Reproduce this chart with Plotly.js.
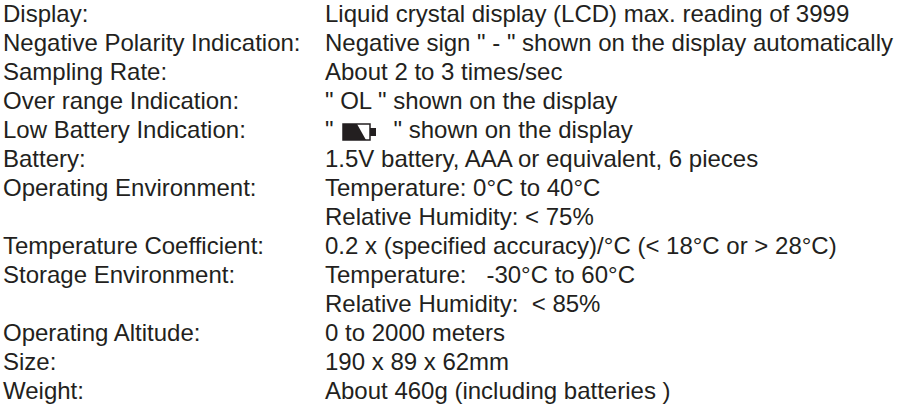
<!DOCTYPE html>
<html>
<head>
<meta charset="utf-8">
<script src="https://cdn.plot.ly/plotly-3.0.1.min.js"></script>
<style>html,body{margin:0;padding:0;background:#fff;}#chart{width:900px;height:407px;}</style>
</head>
<body>
<div id="chart"></div>
<script>
// ---- data ----
const labels = [
  "Display:",
  "Negative Polarity Indication:",
  "Sampling Rate:",
  "Over range Indication:",
  "Low Battery Indication:",
  "Battery:",
  "Operating Environment:",
  "",
  "Temperature Coefficient:",
  "Storage Environment:",
  "",
  "Operating Altitude:",
  "Size:",
  "Weight:"
];
const values = [
  "Liquid crystal display (LCD) max. reading of 3999",
  "Negative sign \" - \" shown on the display automatically",
  "About 2 to 3 times/sec",
  "\" OL \" shown on the display",
  "\"         \" shown on the display",
  "1.5V battery, AAA or equivalent, 6 pieces",
  "Temperature: 0°C to 40°C",
  "Relative Humidity: < 75%",
  "0.2 x (specified accuracy)/°C (< 18°C or > 28°C)",
  "Temperature:   -30°C to 60°C",
  "Relative Humidity:  < 85%",
  "0 to 2000 meters",
  "190 x 89 x 62mm",
  "About 460g (including batteries )"
];
const batteryRow = 4; // row that carries the low-battery glyph

// ---- layout constants ----
const LABEL_X = 3, VALUE_X = 325;
const FIRST_PX = 16, ROW_PX = 29, H = 407;
const rows = labels.map((_, i) => i);
const font = {family: "Liberation Sans, Arial, sans-serif", size: 24, color: "#231f20"};
const ink = "#231f20";

const traces = [
  {type: "scatter", mode: "text", x: rows.map(() => LABEL_X), y: rows, text: labels,
   textposition: "middle right", textfont: font, hoverinfo: "skip", showlegend: false, cliponaxis: false},
  {type: "scatter", mode: "text", x: rows.map(() => VALUE_X), y: rows, text: values,
   textposition: "middle right", textfont: font, hoverinfo: "skip", showlegend: false, cliponaxis: false}
];

// battery glyph (x axis is in pixel units; y in row units)
const toRows = v => v / ROW_PX;
const gx = VALUE_X + 18, gw = 27;
const gTop = batteryRow - toRows(8), gBot = batteryRow + toRows(8);
const shapes = [
  {type: "path", xref: "x", yref: "y",
   path: `M${gx},${gTop} L${gx + 14},${gTop} L${gx + 23},${gBot} L${gx},${gBot} Z`,
   fillcolor: ink, line: {width: 0}},
  {type: "rect", xref: "x", yref: "y", x0: gx, x1: gx + gw, y0: gTop, y1: gBot,
   line: {color: ink, width: 1.5}},
  {type: "rect", xref: "x", yref: "y", x0: gx + gw, x1: gx + gw + 6,
   y0: batteryRow - toRows(4), y1: batteryRow + toRows(4), fillcolor: ink, line: {width: 0}}
];

const layout = {
  width: 900, height: H,
  margin: {l: 0, r: 0, t: 0, b: 0},
  paper_bgcolor: "#ffffff", plot_bgcolor: "#ffffff",
  xaxis: {range: [0, 900], visible: false, fixedrange: true},
  yaxis: {range: [(H - FIRST_PX) / ROW_PX, -FIRST_PX / ROW_PX], visible: false, fixedrange: true},
  shapes: shapes,
  showlegend: false
};

Plotly.newPlot("chart", traces, layout, {staticPlot: true, displayModeBar: false});
</script>
</body>
</html>
